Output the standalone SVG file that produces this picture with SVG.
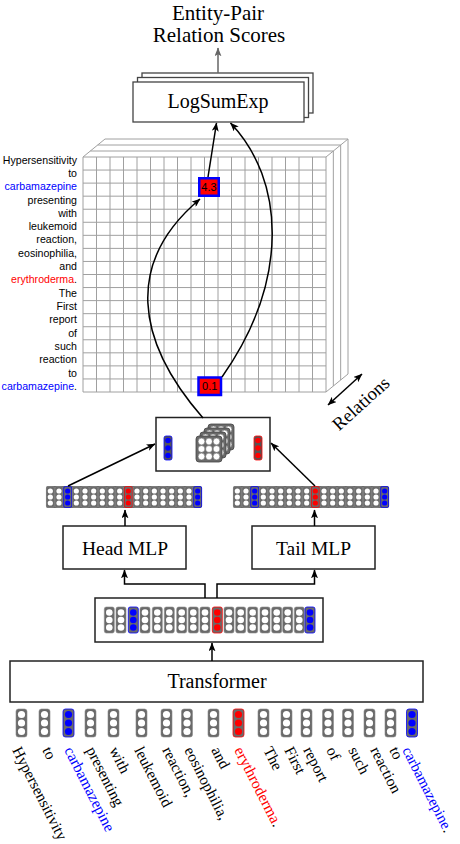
<svg xmlns="http://www.w3.org/2000/svg" xmlns:xlink="http://www.w3.org/1999/xlink" width="460" height="844" viewBox="0 0 460 844">
<style>
.t{font-family:"Liberation Serif","Times New Roman",serif;fill:#000}
.s{font-family:"Liberation Sans",Arial,sans-serif;fill:#000}
.box{fill:#fff;stroke:#222;stroke-width:1.5}
.ln{fill:none;stroke:#000;stroke-width:1.5}
.grid{fill:none;stroke:#a0a0a0;stroke-width:1}
.w{fill:#fff;stroke:#8c8c8c;stroke-width:0.6}
.b{fill:#0000ff;stroke:#0000ff;stroke-width:0.8}
.r{fill:#ff0000;stroke:#ff0000;stroke-width:0.8}
.blue{fill:#0000ff}
.red{fill:#ff0000}
</style>
<defs>
<marker id="ah" viewBox="0 0 10 8" refX="9.5" refY="4" markerWidth="9" markerHeight="7" orient="auto" markerUnits="userSpaceOnUse"><path d="M0,0 L10,4 L0,8 L2.5,4 z" fill="#000"/></marker>
<marker id="ahs" viewBox="0 0 10 8" refX="9.5" refY="4" markerWidth="9" markerHeight="7" orient="auto-start-reverse" markerUnits="userSpaceOnUse"><path d="M0,0 L10,4 L0,8 L2.5,4 z" fill="#000"/></marker>
<marker id="ahg" viewBox="0 0 10 8" refX="9.5" refY="4" markerWidth="9" markerHeight="7" orient="auto" markerUnits="userSpaceOnUse"><path d="M0,0 L10,4 L0,8 L2.5,4 z" fill="#666"/></marker>
<g id="cs"><rect x="0.4" y="0.6" width="7.9" height="20.8" rx="1.5" fill="#6a6a6a"/><circle cx="4.33" cy="5" r="2.6" stroke="none"/><circle cx="4.33" cy="11" r="2.6" stroke="none"/><circle cx="4.33" cy="17" r="2.6" stroke="none"/></g>
<g id="cm"><rect x="0" y="0" width="10" height="26" rx="2" fill="#6a6a6a"/><circle cx="5" cy="5.5" r="3.3" stroke="none"/><circle cx="5" cy="13" r="3.3" stroke="none"/><circle cx="5" cy="20.5" r="3.3" stroke="none"/></g>
<g id="cl"><rect x="0" y="0" width="11" height="28" rx="2.5" fill="#6a6a6a"/><circle cx="5.5" cy="5.5" r="3.6" stroke="none"/><circle cx="5.5" cy="14" r="3.6" stroke="none"/><circle cx="5.5" cy="22.5" r="3.6" stroke="none"/></g>
<g id="plate"><rect x="0" y="0" width="26" height="26" rx="3" fill="#6a6a6a" stroke="#444" stroke-width="0.8"/>
<g fill="#fff" stroke="#555" stroke-width="0.5"><circle cx="5.5" cy="5.5" r="3.4"/><circle cx="13" cy="5.5" r="3.4"/><circle cx="20.5" cy="5.5" r="3.4"/><circle cx="5.5" cy="13" r="3.4"/><circle cx="13" cy="13" r="3.4"/><circle cx="20.5" cy="13" r="3.4"/><circle cx="5.5" cy="20.5" r="3.4"/><circle cx="13" cy="20.5" r="3.4"/><circle cx="20.5" cy="20.5" r="3.4"/></g></g>
</defs>

<g id="title">
<text class="t" x="218" y="20" font-size="21" text-anchor="middle">Entity-Pair</text>
<text class="t" x="219" y="42" font-size="21" text-anchor="middle">Relation Scores</text>
</g>

<g id="logsumexp">
<rect x="142" y="73" width="171" height="40" fill="#fff" stroke="#444" stroke-width="1.3"/>
<rect x="137.5" y="77.5" width="171" height="40" fill="#fff" stroke="#444" stroke-width="1.3"/>
<rect x="133" y="82" width="171" height="40" fill="#fff" stroke="#444" stroke-width="1.3"/>
<text class="t" x="218" y="108" font-size="20" text-anchor="middle">LogSumExp</text>
</g>

<g id="grid">
<path class="grid" d="M90.33,151 H333.33 V386 M97.67,145 H340.67 V380 M105,139 H348 V374 M83,157 L105,139 M326,157 L348,139 M326,392 L348,374"/>
<rect x="83" y="157" width="243" height="235" fill="#fff"/>
<path class="grid" d="M83,157V392M96.5,157V392M110,157V392M123.5,157V392M137,157V392M150.5,157V392M164,157V392M177.5,157V392M191,157V392M204.5,157V392M218,157V392M231.5,157V392M245,157V392M258.5,157V392M272,157V392M285.5,157V392M299,157V392M312.5,157V392M326,157V392
M83,157H326M83,170.06H326M83,183.11H326M83,196.17H326M83,209.22H326M83,222.28H326M83,235.33H326M83,248.39H326M83,261.44H326M83,274.5H326M83,287.56H326M83,300.61H326M83,313.67H326M83,326.72H326M83,339.78H326M83,352.83H326M83,365.89H326M83,378.94H326M83,392H326"/>
</g>

<g id="grid-labels" class="s" font-size="10.6" text-anchor="end">
<text x="77" y="163.5">Hypersensitivity</text>
<text x="77" y="176.8">to</text>
<text x="77" y="190.1"><tspan class="blue">carbamazepine</tspan></text>
<text x="77" y="203.5">presenting</text>
<text x="77" y="216.8">with</text>
<text x="77" y="230.1">leukemoid</text>
<text x="77" y="243.4">reaction,</text>
<text x="77" y="256.7">eosinophilia,</text>
<text x="77" y="270.1">and</text>
<text x="77" y="283.4"><tspan class="red">erythroderma</tspan>.</text>
<text x="77" y="296.7">The</text>
<text x="77" y="310">First</text>
<text x="77" y="323.3">report</text>
<text x="77" y="336.7">of</text>
<text x="77" y="350">such</text>
<text x="77" y="363.3">reaction</text>
<text x="77" y="376.6">to</text>
<text x="77" y="390"><tspan class="blue">carbamazepine</tspan>.</text>
</g>

<g id="cell-43">
<rect x="199.25" y="178.25" width="19.5" height="17.5" fill="#ff0000" stroke="#0000ff" stroke-width="2.5"/>
<text class="s" x="209" y="191" font-size="11" text-anchor="middle">4.3</text>
</g>
<g id="cell-01">
<rect x="198.5" y="377.5" width="22.5" height="17.5" fill="#ff0000" stroke="#0000ff" stroke-width="2.5"/>
<text class="s" x="209.7" y="390" font-size="11" text-anchor="middle">0.1</text>
</g>

<g id="relations">
<text class="t" x="365" y="408" font-size="18.5" text-anchor="middle" transform="rotate(-42 365 408)">Relations</text>
</g>

<g id="pair-box">
<rect class="box" x="156" y="417.5" width="114" height="53.5"/>
<rect x="164" y="436" width="8" height="24" rx="2" fill="#555" stroke="#0000ff" stroke-width="0.8"/>
<g class="blue"><circle cx="168" cy="440.5" r="2.8"/><circle cx="168" cy="448" r="2.8"/><circle cx="168" cy="455.5" r="2.8"/></g>
<rect x="254" y="436" width="8" height="24" rx="2" fill="#555" stroke="#ff0000" stroke-width="0.8"/>
<g class="red"><circle cx="258" cy="440.5" r="2.8"/><circle cx="258" cy="448" r="2.8"/><circle cx="258" cy="455.5" r="2.8"/></g>
<use href="#plate" x="208" y="424"/>
<use href="#plate" x="204" y="428"/>
<use href="#plate" x="200" y="432"/>
<use href="#plate" x="196" y="436"/>
</g>

<g id="head-vector">
<rect x="46" y="486" width="156" height="22" rx="2" fill="#6a6a6a"/>
<use href="#cs" class="w" x="46" y="486"/><use href="#cs" class="w" x="54.67" y="486"/><use href="#cs" class="b" x="63.33" y="486"/><use href="#cs" class="w" x="72" y="486"/><use href="#cs" class="w" x="80.67" y="486"/><use href="#cs" class="w" x="89.33" y="486"/><use href="#cs" class="w" x="98" y="486"/><use href="#cs" class="w" x="106.67" y="486"/><use href="#cs" class="w" x="115.33" y="486"/><use href="#cs" class="r" x="124" y="486"/><use href="#cs" class="w" x="132.67" y="486"/><use href="#cs" class="w" x="141.33" y="486"/><use href="#cs" class="w" x="150" y="486"/><use href="#cs" class="w" x="158.67" y="486"/><use href="#cs" class="w" x="167.33" y="486"/><use href="#cs" class="w" x="176" y="486"/><use href="#cs" class="w" x="184.67" y="486"/><use href="#cs" class="b" x="193.33" y="486"/>
</g>

<g id="tail-vector">
<rect x="233" y="486" width="156" height="22" rx="2" fill="#6a6a6a"/>
<use href="#cs" class="w" x="233" y="486"/><use href="#cs" class="w" x="241.67" y="486"/><use href="#cs" class="b" x="250.33" y="486"/><use href="#cs" class="w" x="259" y="486"/><use href="#cs" class="w" x="267.67" y="486"/><use href="#cs" class="w" x="276.33" y="486"/><use href="#cs" class="w" x="285" y="486"/><use href="#cs" class="w" x="293.67" y="486"/><use href="#cs" class="w" x="302.33" y="486"/><use href="#cs" class="r" x="311" y="486"/><use href="#cs" class="w" x="319.67" y="486"/><use href="#cs" class="w" x="328.33" y="486"/><use href="#cs" class="w" x="337" y="486"/><use href="#cs" class="w" x="345.67" y="486"/><use href="#cs" class="w" x="354.33" y="486"/><use href="#cs" class="w" x="363" y="486"/><use href="#cs" class="w" x="371.67" y="486"/><use href="#cs" class="b" x="380.33" y="486"/>
</g>

<g id="head-mlp">
<rect class="box" x="63" y="526" width="123" height="43"/>
<text class="t" x="125" y="555" font-size="19.5" text-anchor="middle">Head MLP</text>
</g>
<g id="tail-mlp">
<rect class="box" x="252" y="526" width="123" height="43"/>
<text class="t" x="313.5" y="555" font-size="19.5" text-anchor="middle">Tail MLP</text>
</g>

<g id="token-box">
<rect class="box" x="95" y="598" width="228" height="44"/>
<use href="#cm" class="w" x="104.3" y="607"/><use href="#cm" class="w" x="116" y="607"/><use href="#cm" class="b" x="128.3" y="607"/><use href="#cm" class="w" x="140" y="607"/><use href="#cm" class="w" x="152.3" y="607"/><use href="#cm" class="w" x="164.3" y="607"/><use href="#cm" class="w" x="176.7" y="607"/><use href="#cm" class="w" x="188.3" y="607"/><use href="#cm" class="w" x="200" y="607"/><use href="#cm" class="r" x="212.3" y="607"/><use href="#cm" class="w" x="224" y="607"/><use href="#cm" class="w" x="235.7" y="607"/><use href="#cm" class="w" x="247.7" y="607"/><use href="#cm" class="w" x="260" y="607"/><use href="#cm" class="w" x="271.7" y="607"/><use href="#cm" class="w" x="282.7" y="607"/><use href="#cm" class="w" x="294.3" y="607"/><use href="#cm" class="b" x="305" y="607"/>
</g>

<g id="transformer">
<rect class="box" x="10" y="661" width="413" height="41"/>
<text class="t" x="217" y="688" font-size="20" text-anchor="middle">Transformer</text>
</g>

<g id="input-tokens">
<use href="#cl" class="w" x="16" y="709"/><use href="#cl" class="w" x="39" y="709"/><use href="#cl" class="b" x="63" y="709"/><use href="#cl" class="w" x="85" y="709"/><use href="#cl" class="w" x="108" y="709"/><use href="#cl" class="w" x="136" y="709"/><use href="#cl" class="w" x="161" y="709"/><use href="#cl" class="w" x="181.5" y="709"/><use href="#cl" class="w" x="208" y="709"/><use href="#cl" class="r" x="233" y="709"/><use href="#cl" class="w" x="258" y="709"/><use href="#cl" class="w" x="281" y="709"/><use href="#cl" class="w" x="301" y="709"/><use href="#cl" class="w" x="322.5" y="709"/><use href="#cl" class="w" x="342.5" y="709"/><use href="#cl" class="w" x="364" y="709"/><use href="#cl" class="w" x="385" y="709"/><use href="#cl" class="b" x="406.5" y="709"/>
</g>

<g id="input-words" class="t" font-size="15.5">
<text x="12" y="750" transform="rotate(63 12 750)">Hypersensitivity</text>
<text x="42" y="750" transform="rotate(63 42 750)">to</text>
<text x="64" y="750" transform="rotate(63 64 750)" class="blue">carbamazepine</text>
<text x="86" y="750" transform="rotate(63 86 750)">presenting</text>
<text x="109" y="750" transform="rotate(63 109 750)">with</text>
<text x="134" y="750" transform="rotate(63 134 750)">leukemoid</text>
<text x="162" y="750" transform="rotate(63 162 750)">reaction,</text>
<text x="184" y="750" transform="rotate(63 184 750)">eosinophilia,</text>
<text x="211" y="750" transform="rotate(63 211 750)">and</text>
<text x="234" y="750" transform="rotate(63 234 750)"><tspan class="red">erythroderma</tspan>.</text>
<text x="263" y="750" transform="rotate(63 263 750)">The</text>
<text x="284" y="750" transform="rotate(63 284 750)">First</text>
<text x="303" y="750" transform="rotate(63 303 750)">report</text>
<text x="326" y="750" transform="rotate(63 326 750)">of</text>
<text x="348" y="750" transform="rotate(63 348 750)">such</text>
<text x="370" y="750" transform="rotate(63 370 750)">reaction</text>
<text x="389" y="750" transform="rotate(63 389 750)">to</text>
<text x="402" y="750" font-size="15" transform="rotate(63 402 750)"><tspan class="blue">carbamazepine</tspan>.</text>
</g>

<g id="connectors">
<path d="M218,73 L218,48" fill="none" stroke="#666" stroke-width="1.5" marker-end="url(#ahg)"/>
<path class="ln" d="M208,177 L216.5,123" marker-end="url(#ah)"/>
<path class="ln" d="M222,377 C290,280 285,180 230.5,123" marker-end="url(#ah)"/>
<path class="ln" d="M203,418 C135,340 125,262 200,199" marker-end="url(#ah)"/>
<path class="ln" d="M328,405 L362,374" marker-start="url(#ahs)" marker-end="url(#ah)"/>
<path class="ln" d="M68,486 L155,444" marker-end="url(#ah)"/>
<path class="ln" d="M315,486 L271,443" marker-end="url(#ah)"/>
<path class="ln" d="M125,526 L125,510" marker-end="url(#ah)"/>
<path class="ln" d="M314.5,526 L314.5,510" marker-end="url(#ah)"/>
<path class="ln" d="M205,598 V584 H124.5 V570" marker-end="url(#ah)"/>
<path class="ln" d="M217,598 V584 H314.5 V570" marker-end="url(#ah)"/>
<path class="ln" d="M212,661 L212,643" marker-end="url(#ah)"/>
</g>
</svg>
